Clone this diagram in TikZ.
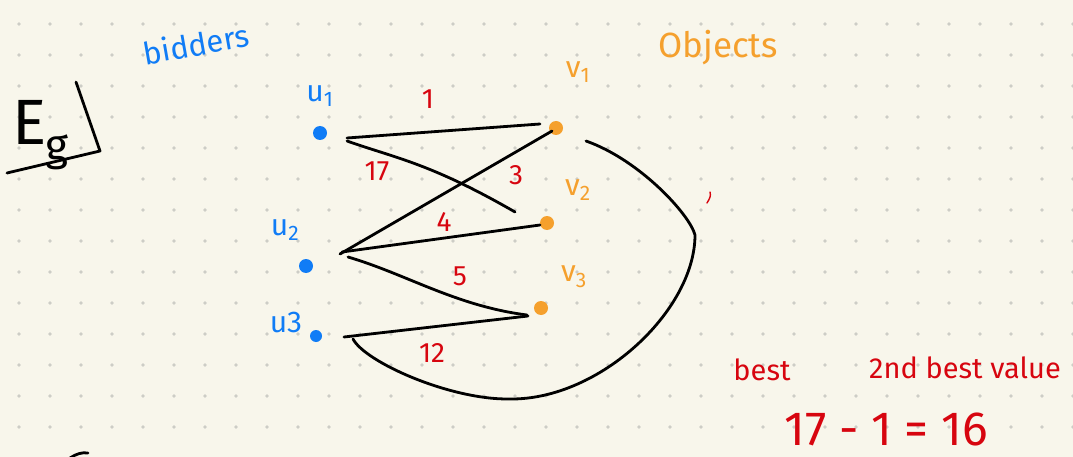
\documentclass[tikz,border=0pt]{standalone}
\usepackage{fontspec}
\setmainfont{Fira Sans}
\usetikzlibrary{calc}
\definecolor{paper}{RGB}{248,246,235}
\definecolor{dotc}{RGB}{205,205,198}
\definecolor{ublue}{RGB}{16,124,246}
\definecolor{vorange}{RGB}{245,160,45}
\definecolor{wred}{RGB}{215,5,15}
\begin{document}
\begin{tikzpicture}[x=1pt,y=-1pt,line cap=round,line join=round,
  dot/.style={circle,inner sep=0pt,minimum size=14pt},
  udot/.style={dot,fill=ublue},
  vdot/.style={dot,fill=vorange},
  edge/.style={draw=black,line width=2.8pt},
  wlabel/.style={text=wred,font=\fontsize{28}{28}\selectfont},
  ulabel/.style={text=ublue,font=\fontsize{30}{30}\selectfont},
  vlabel/.style={text=vorange,font=\fontsize{30}{30}\selectfont},
  note/.style={text=wred,font=\fontsize{29}{29}\selectfont}]
\useasboundingbox (0,0) rectangle (1073,457);
\fill[paper] (0,0) rectangle (1073,457);
\foreach \i in {0,...,34}{\foreach \j in {0,...,13}{\fill[dotc] ({19+31*\i},{24+31*\j}) circle (1.8);}}
% headings
\node[text=ublue,font=\fontsize{31}{31}\selectfont,rotate=10,inner sep=0pt] (bid) at (196,44) {bidders};
\node[text=vorange,font=\fontsize{35}{35}\selectfont] (obj) at (718,48) {Objects};
% Eg
\node[font=\fontsize{64}{64}\selectfont] (E) at (30,122) {E};
\node[font=\fontsize{44}{44}\selectfont] (g) at (57,152) {g};
\draw[line width=2.8pt] (7,173) -- (100,151) -- (76,82);
% vertices
\node[udot] (u1) at (320,133) {};
\node[udot] (u2) at (306,266) {};
\node[udot,minimum size=12pt] (u3) at (316,336) {};
\node[vdot] (v1) at (556,128) {};
\node[vdot] (v2) at (547,223) {};
\node[vdot] (v3) at (541,308) {};
\node[ulabel] (lu1) at (320,96) {u\textsubscript{1}};
\node[ulabel] (lu2) at (285,230) {u\textsubscript{2}};
\node[ulabel] (lu3) at (286,322) {u3};
\node[vlabel] (lv1) at (578,72) {v\textsubscript{1}};
\node[vlabel] (lv2) at (578,190) {v\textsubscript{2}};
\node[vlabel] (lv3) at (574,277) {v\textsubscript{3}};
% edges
\draw[edge] ($(u1)+(27,5)$) -- ($(v1)+(-16,-4)$);
\draw[edge] ($(u1)+(27,8)$) .. controls ($(u1)+(75,25)$) and ($(u1)+(110,30)$) .. ($(v2)+(-32,-11)$);
\draw[edge] ($(u2)+(34,-12)$) -- ($(v1)+(-4,3)$);
\draw[edge] ($(u2)+(36,-14)$) -- ($(v2)+(-7,2)$);
\draw[edge] ($(u2)+(42,-9)$) .. controls ($(u2)+(100,8)$) and ($(u2)+(150,40)$) .. ($(v3)+(-14,7)$);
\draw[edge] ($(u3)+(28,1)$) -- ($(v3)+(-13,8)$);
\draw[edge] ($(u3)+(37,3)$) .. controls (365,362) and (450,400) .. (510,399)
  .. controls (600,400) and (695,310) .. (695,235)
  .. controls (690,215) and (640,160) .. ($(v1)+(30,13)$);
% weights
\node[wlabel] (w1) at (428,99) {1};
\node[wlabel] (w17) at (377,171) {17};
\node[wlabel] (w3) at (516,175) {3};
\node[wlabel] (w4) at (444,222) {4};
\node[wlabel] (w5) at (460,276) {5};
\node[wlabel] (w12) at (432,353) {12};
\draw[wred,line width=1.4pt] (707,203) .. controls (710,198) and (711,196) .. (710,192);
% notes
\node[note] (best) at (762,370) {best};
\node[note] (second) at (965,368) {2nd best value};
\node[text=wred,font=\fontsize{48}{48}\selectfont,inner sep=0pt] (calc) at (886,429) {17 - 1 = 16};
\draw[line width=2.8pt] (70,458) .. controls (76,454) and (82,452) .. (88,453);
\end{tikzpicture}
\end{document}
